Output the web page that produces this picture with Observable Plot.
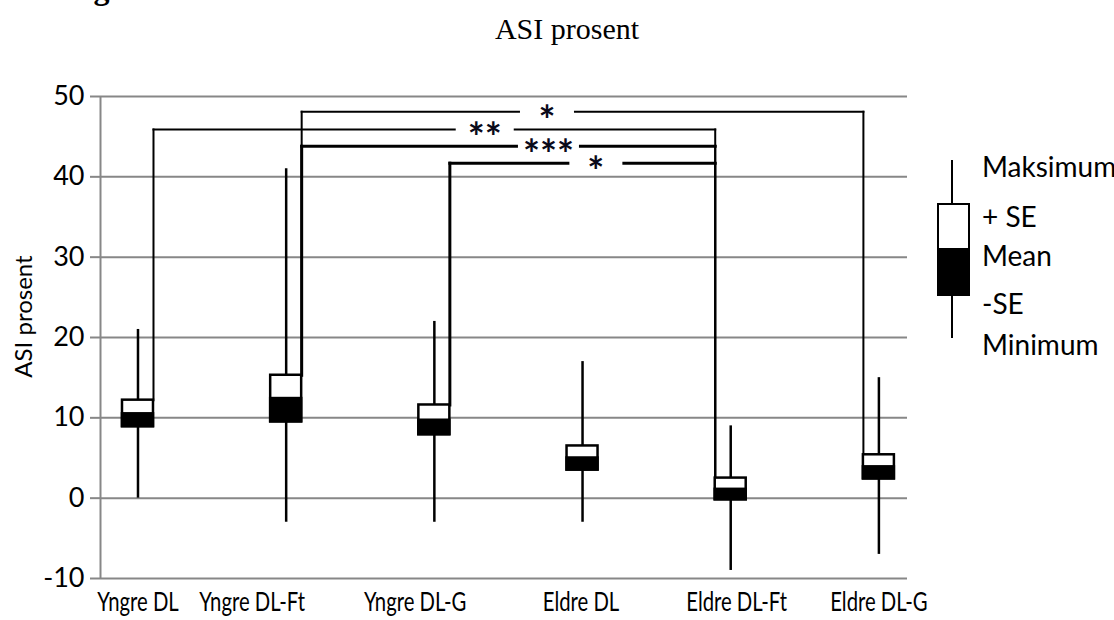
<!DOCTYPE html>
<html><head><meta charset="utf-8">
<script src="https://cdn.jsdelivr.net/npm/d3@7"></script>
<script src="https://cdn.jsdelivr.net/npm/@observablehq/plot@0.6"></script>
<style>
body{margin:0;background:#fff;}
#wrap{position:relative;width:1114px;height:620px;overflow:hidden;background:#fff;}
#wrap > svg{position:absolute;left:0;top:0;}
</style></head>
<body><div id="wrap"></div>
<script>
// ---- data ----
const categories = ["Yngre DL","Yngre DL-Ft","Yngre DL-G","Eldre DL","Eldre DL-Ft","Eldre DL-G"];
const maxima  = [21, 41, 22, 17, 9, 15];
const plusSE  = [12.2, 15.3, 11.6, 6.5, 2.5, 5.4];
const means   = [10.5, 12.4, 9.7, 5.0, 1.1, 3.9];
const minusSE = [8.9, 9.5, 7.9, 3.5, -0.2, 2.4];
const minima  = [0, -3, -3, -3, -9, -7];
const yTicks  = [-10, 0, 10, 20, 30, 40, 50];
// where each category label sits under the axis (category-index units)
const labelAt = [0.0, 0.77, 1.87, 2.99, 4.04, 5.0];
const bracketFrom  = ["Yngre DL-Ft","Yngre DL","Yngre DL-Ft","Yngre DL-G"];
const bracketTo    = ["Eldre DL-G","Eldre DL-Ft","Eldre DL-Ft","Eldre DL-Ft"];
const bracketLevel = [48.1, 45.9, 43.8, 41.7];
const bracketLabel = ["*","**","***","*"];
const bracketLabelAt = [2.76, 2.34, 2.77, 3.09]; // label centre, in category-index units
const legendLabels = ["Maksimum","+ SE","Mean","-SE","Minimum"];
const titleText = "ASI prosent";
const yLabelText = "ASI prosent";

// ---- layout ----
const W = 1114, H = 620;
const mL = 100, mR = 207, mT = 96, mB = 42;
const xDomain = [-0.253, 5.193];
const pxPerUnit = (W - mL - mR) / (xDomain[1] - xDomain[0]);
const hw = 15.5 / pxPerUnit;           // half box width
const gray = "#878787";
const font = "Lato, 'Open Sans', sans-serif";

const groups = categories.map((c, i) => ({i, c, max: maxima[i], hi: plusSE[i], mean: means[i], lo: minusSE[i], min: minima[i], at: labelAt[i]}));
const segs = [];
bracketLabel.forEach((lab, k) => {
  const a = categories.indexOf(bracketFrom[k]), b = categories.indexOf(bracketTo[k]);
  const xa = a + hw, xb = b - hw, lv = bracketLevel[k], at = bracketLabelAt[k];
  const gap = (26 + 2 * lab.length) / pxPerUnit;
  const sw = k >= 2 ? 3 : 2;
  segs.push({x1: xa, y1: plusSE[a], x2: xa, y2: lv, sw});
  segs.push({x1: xa, y1: lv, x2: at - gap, y2: lv, sw});
  segs.push({x1: at + gap, y1: lv, x2: xb, y2: lv, sw});
  segs.push({x1: xb, y1: lv, x2: xb, y2: plusSE[b], sw: 2});
});
const stars = bracketLabel.map((lab, k) => ({lab, at: bracketLabelAt[k], lv: bracketLevel[k]}));

const chart = Plot.plot({
  width: W, height: H,
  marginLeft: mL, marginRight: mR, marginTop: mT, marginBottom: mB,
  style: {fontFamily: font, background: "transparent", color: "black"},
  x: {type: "linear", domain: xDomain, axis: null},
  y: {domain: [-10, 50]},
  marks: [
    Plot.gridY(yTicks, {stroke: gray, strokeOpacity: 1, strokeWidth: 2}),
    Plot.ruleX([xDomain[0]], {y1: -10, y2: 50, stroke: gray, strokeWidth: 2}),
    Plot.axisY(yTicks, {tickSize: 10, tickPadding: 6, stroke: gray, strokeWidth: 2, fill: "black", fontSize: 27, label: null, tickFormat: d => String(d)}),
    Plot.text(groups, {x: "at", text: "c", frameAnchor: "bottom", lineAnchor: "top", dy: 32, fontSize: 26, fill: "black", ariaLabel: "xlab"}),
    Plot.text([yLabelText], {frameAnchor: "left", textAnchor: "middle", rotate: -90, dx: -76, dy: -21, fontSize: 24, fill: "black"}),
    Plot.link(segs, {x1: "x1", y1: "y1", x2: "x2", y2: "y2", stroke: "black", strokeWidth: "sw", strokeLinecap: "square"}),
    Plot.ruleX(groups, {x: "i", y1: "min", y2: "max", stroke: "black", strokeWidth: 2.5}),
    Plot.rect(groups, {x1: d => d.i - hw, x2: d => d.i + hw, y1: "lo", y2: "hi", fill: "white", stroke: "black", strokeWidth: 2.5}),
    Plot.rect(groups, {x1: d => d.i - hw, x2: d => d.i + hw, y1: "lo", y2: "mean", fill: "black", stroke: "black", strokeWidth: 2.5}),
    Plot.text(stars, {x: "at", y: "lv", text: "lab", fontSize: 40, fontWeight: "bold", fill: "#0a0a1a", dy: 10})
  ]
});
// category labels in the reference are horizontally condensed
const labTexts = new Set();
chart.querySelectorAll('[aria-label="xlab"]').forEach(el => {
  if (el.tagName.toLowerCase() === "text") labTexts.add(el);
  else el.querySelectorAll("text").forEach(t => labTexts.add(t));
});
if (labTexts.size === 0) {
  chart.querySelectorAll("text").forEach(t => { if (categories.includes(t.textContent)) labTexts.add(t); });
}
labTexts.forEach(t => {
  const tr = t.getAttribute("transform");
  const x = +t.getAttribute("x") || 0, y = +t.getAttribute("y") || 0;
  t.removeAttribute("x"); t.removeAttribute("y");
  t.setAttribute("transform", `${tr || ""} translate(${x},${y}) scale(0.78,1)`);
});
const wrap = document.getElementById("wrap");
wrap.appendChild(chart);

// ---- title, cut-off heading and legend (overlay) ----
const ov = d3.select(wrap).append("svg").attr("width", W).attr("height", H).style("pointer-events", "none");
ov.append("text").attr("x", 65).attr("y", -1).attr("font-family", "'Liberation Serif', serif").attr("font-weight", "bold").attr("font-size", 32).text("Fig");
ov.append("text").attr("x", 567).attr("y", 39).attr("text-anchor", "middle").attr("font-family", "'Liberation Serif', serif").attr("font-size", 30).text(titleText);
const lg = ov.append("g");
lg.append("line").attr("x1", 952).attr("x2", 952).attr("y1", 160).attr("y2", 338).attr("stroke", "black").attr("stroke-width", 2);
lg.append("rect").attr("x", 938).attr("y", 204).attr("width", 31).attr("height", 91).attr("fill", "white").attr("stroke", "black").attr("stroke-width", 2);
lg.append("rect").attr("x", 938).attr("y", 249).attr("width", 31).attr("height", 46).attr("fill", "black").attr("stroke", "black").attr("stroke-width", 2);
const baselines = [177, 227, 266, 314, 355];
legendLabels.forEach((t, i) => {
  lg.append("text").attr("x", 982).attr("y", baselines[i]).attr("font-family", font).attr("font-size", 28).text(t);
});
</script>
</body></html>
